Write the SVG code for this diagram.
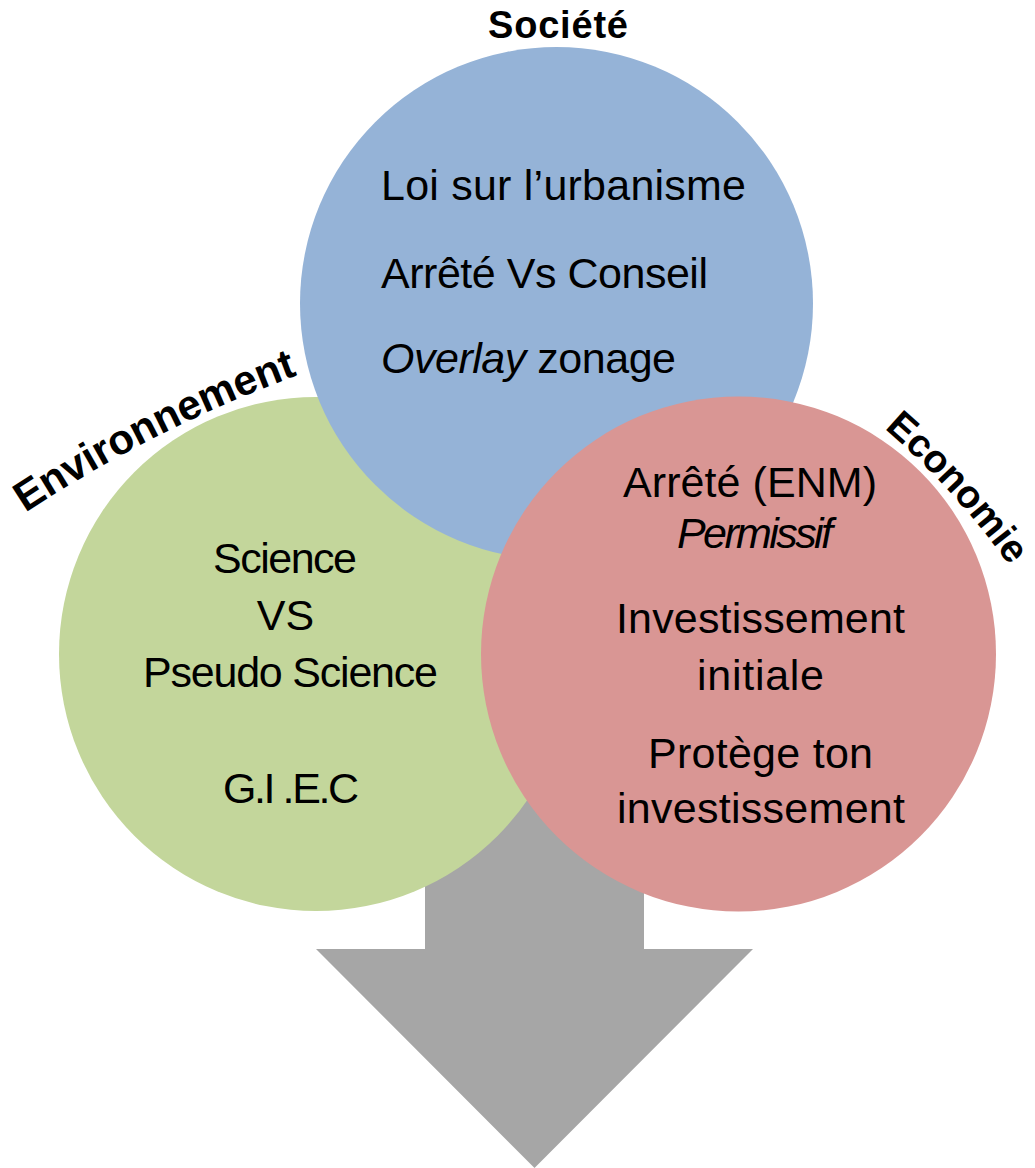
<svg xmlns="http://www.w3.org/2000/svg" width="1035" height="1168" viewBox="0 0 1035 1168">
  <style>
    .body { font-family: "Liberation Sans", Arial, sans-serif; font-size: 43px; fill: #000; }
    .mid { text-anchor: middle; }
    .it { font-style: italic; }
    .label { font-family: "Liberation Sans", Arial, sans-serif; font-weight: bold; fill: #000; }
  </style>
  <defs>
    <path id="arc-env" d="M25,513 A1350,1350 0 0 1 298,375"/>
    <path id="arc-eco" d="M885,429 A800,800 0 0 1 1009,565"/>
  </defs>
  <rect width="1035" height="1168" fill="#fff"/>

  <!-- block arrow pointing down, behind the circles -->
  <g id="connectors">
    <polygon points="425,640 644,640 644,949 753,949 534.5,1168 316,949 425,949" fill="#A6A6A6"/>
  </g>

  <!-- Environnement -->
  <g id="environnement">
    <circle cx="316" cy="654" r="257" fill="#C3D69B"/>
    <text class="body mid" x="285" y="573" textLength="144">Science</text>
    <text class="body mid" x="285.5" y="630">VS</text>
    <text class="body mid" x="290.5" y="687" textLength="295">Pseudo Science</text>
    <text class="body mid" x="291" y="803" textLength="136">G.I .E.C</text>
    <text class="label" font-size="42"><textPath href="#arc-env" startOffset="50%" text-anchor="middle">Environnement</textPath></text>
  </g>

  <!-- Société -->
  <g id="societe">
    <circle cx="556.5" cy="303.5" r="256.5" fill="#95B3D7"/>
    <text class="body" x="381" y="200" textLength="365">Loi sur l’urbanisme</text>
    <text class="body" x="381" y="288" textLength="327">Arrêté Vs Conseil</text>
    <text class="body" x="381" y="373" textLength="295"><tspan class="it">Overlay</tspan> zonage</text>
    <text class="label mid" x="558" y="38" font-size="38" textLength="140">Société</text>
  </g>

  <!-- Economie -->
  <g id="economie">
    <circle cx="738.5" cy="654" r="257.5" fill="#D99694"/>
    <text class="body mid" x="750" y="497" textLength="254">Arrêté (ENM)</text>
    <text class="body mid it" x="755" y="548" font-size="36" textLength="156">Permissif</text>
    <text class="body mid" x="760.5" y="633" textLength="289">Investissement</text>
    <text class="body mid" x="760.5" y="690" textLength="127">initiale</text>
    <text class="body mid" x="760.5" y="768" textLength="225">Protège ton</text>
    <text class="body mid" x="761" y="823" textLength="288">investissement</text>
    <text class="label" font-size="39"><textPath href="#arc-eco" startOffset="50%" text-anchor="middle">Economie</textPath></text>
  </g>
</svg>
